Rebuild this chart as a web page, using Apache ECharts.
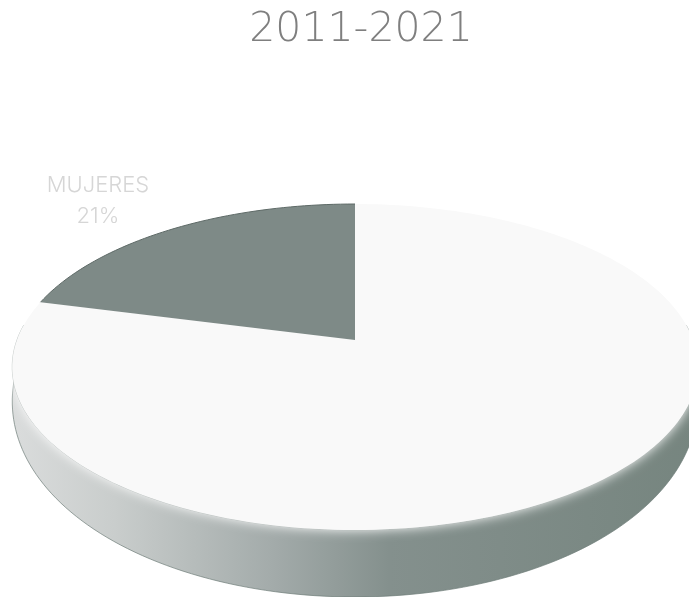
<!DOCTYPE html>
<html>
<head>
<meta charset="utf-8">
<style>html,body{margin:0;padding:0;background:#fff}#c{width:689px;height:597px}</style>
<script src="https://cdn.jsdelivr.net/npm/echarts@6/dist/echarts.min.js"></script>
</head>
<body>
<div id="c"></div>
<script>
const titleText = '2011-2021';
const categories = ['HOMBRES', 'MUJERES'];
const shares = [79, 21];
const visibleLabels = ['MUJERES'];

// perspective disc: u,v are unit-circle coordinates, v = -1 at the back
function project(a) {
  const u = Math.sin(a), v = -Math.cos(a), w = 1 - 0.1656 * v;
  return [355 + 338 * u / w, (340 + 102.2 * v) / w, v];
}
function arc(a0, a1) {
  const pts = [], n = Math.max(2, Math.ceil(Math.abs(a1 - a0) * 40));
  for (let i = 0; i <= n; i++) pts.push(a0 + (a1 - a0) * i / n);
  return pts;
}
const total = shares.reduce((s, x) => s + x, 0);
const sideStart = Math.PI * 0.47, sideEnd = Math.PI * 1.53;

function renderItem(params, api) {
  const i = params.dataIndex;
  let before = 0;
  for (let k = 0; k < i; k++) before += shares[k];
  const a0 = before / total * 2 * Math.PI;
  const a1 = (before + api.value(0)) / total * 2 * Math.PI;
  const apex = [355, 340];
  const children = [];
  if (i === 0) {
    const s0 = Math.max(a0, sideStart), s1 = Math.min(a1, sideEnd);
    const top = arc(s0, s1).map(project);
    const low = top.map(p => [p[0], p[1] + 28 + 39 * p[2]]).reverse();
    children.push({
      type: 'polygon',
      shape: { points: top.map(p => [p[0], p[1]]).concat(low) },
      style: {
        stroke: '#6f7c79', lineWidth: 0.7,
        fill: new echarts.graphic.LinearGradient(1, 0, 0, 0, [
          { offset: 0, color: '#76857f' },
          { offset: 0.45, color: '#84908d' },
          { offset: 0.62, color: '#a3abaa' },
          { offset: 0.85, color: '#c9cdcc' },
          { offset: 1, color: '#dadcdc' }
        ])
      }
    });
  }
  const arcPts = arc(a0, a1).map(p => project(p).slice(0, 2));
  const face = [apex].concat(arcPts);
  children.push({
    type: 'polygon',
    shape: { points: face },
    style: i === 0
      ? { fill: '#f9f9f9', shadowColor: '#ffffff', shadowBlur: 12 }
      : { fill: '#7e8a87' }
  });
  if (i === 1) {
    children.push({
      type: 'polyline',
      shape: { points: arcPts },
      style: { stroke: '#5e6a67', lineWidth: 1, fill: 'none' }
    });
  }
  if (visibleLabels.includes(categories[i])) {
    children.push({
      type: 'text',
      style: {
        x: 98, y: 201, align: 'center', verticalAlign: 'middle',
        text: categories[i] + '\n' + api.value(0) + '%',
        font: '300 22px Inter', lineHeight: 31, fill: '#d6d6d6'
      }
    });
  }
  return { type: 'group', children };
}

const chart = echarts.init(document.getElementById('c'), null, { renderer: 'canvas' });
chart.setOption({
  animation: false,
  backgroundColor: '#ffffff',
  title: {
    text: titleText, left: 356, top: 5, textAlign: 'center',
    textStyle: { fontFamily: '"DejaVu Sans Light", "DejaVu Sans"', fontWeight: 200, fontSize: 41, color: '#7f7f7f' }
  },
  series: [{
    type: 'custom',
    coordinateSystem: 'none',
    renderItem,
    data: categories.map((c, i) => ({ name: c, value: [shares[i]] }))
  }]
});
</script>
</body>
</html>
